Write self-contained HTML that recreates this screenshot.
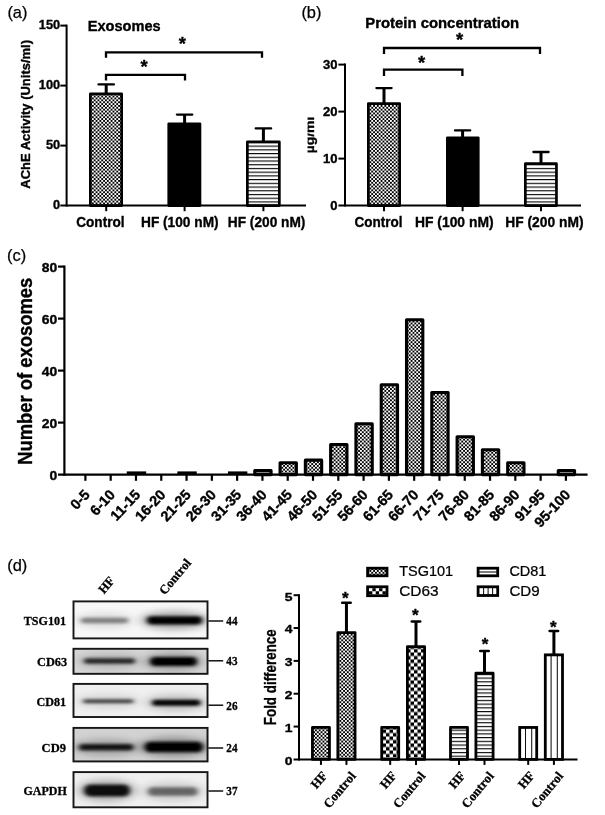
<!DOCTYPE html>
<html lang="en"><head><meta charset="utf-8"><title>Figure</title>
<style>
html,body{margin:0;padding:0;background:#fff;}
svg{display:block;}
text{white-space:pre;}
.sb{font-family:"Liberation Sans",sans-serif;font-weight:700;stroke:#000;stroke-width:0.36px;stroke-linejoin:round;}
.sn{font-family:"Liberation Sans",sans-serif;font-weight:400;}
.rb{font-family:"Liberation Serif",serif;font-weight:700;stroke:#000;stroke-width:0.3px;}
.rn{font-family:"Liberation Serif",serif;font-weight:400;}
</style></head><body>
<svg width="605" height="815" viewBox="0 0 605 815">
<rect width="605" height="815" fill="#fff"/>
<g filter="url(#soft2)">
<rect x="90.35" y="93.95" width="31.30" height="111.65" fill="url(#pFine)" stroke="none" stroke-width="0"/>
<rect x="168.75" y="123.75" width="31.20" height="81.85" fill="#000" stroke="none" stroke-width="0"/>
<rect x="247.35" y="141.95" width="32.00" height="63.65" fill="url(#pH)" stroke="none" stroke-width="0"/>
<rect x="368.35" y="103.55" width="31.30" height="102.05" fill="url(#pFine)" stroke="none" stroke-width="0"/>
<rect x="447.35" y="137.86" width="30.90" height="67.74" fill="#000" stroke="none" stroke-width="0"/>
<rect x="525.35" y="163.71" width="31.10" height="41.89" fill="url(#pH)" stroke="none" stroke-width="0"/>
<rect x="254.78" y="470.55" width="16.30" height="4.05" fill="url(#pFine)" stroke="none" stroke-width="0"/>
<rect x="280.07" y="462.75" width="16.30" height="11.85" fill="url(#pFine)" stroke="none" stroke-width="0"/>
<rect x="305.36" y="460.15" width="16.30" height="14.45" fill="url(#pFine)" stroke="none" stroke-width="0"/>
<rect x="330.65" y="444.55" width="16.30" height="30.05" fill="url(#pFine)" stroke="none" stroke-width="0"/>
<rect x="355.94" y="423.75" width="16.30" height="50.85" fill="url(#pFine)" stroke="none" stroke-width="0"/>
<rect x="381.23" y="384.75" width="16.30" height="89.85" fill="url(#pFine)" stroke="none" stroke-width="0"/>
<rect x="406.52" y="319.75" width="16.30" height="154.85" fill="url(#pFine)" stroke="none" stroke-width="0"/>
<rect x="431.81" y="392.55" width="16.30" height="82.05" fill="url(#pFine)" stroke="none" stroke-width="0"/>
<rect x="457.10" y="436.75" width="16.30" height="37.85" fill="url(#pFine)" stroke="none" stroke-width="0"/>
<rect x="482.39" y="449.75" width="16.30" height="24.85" fill="url(#pFine)" stroke="none" stroke-width="0"/>
<rect x="507.68" y="462.75" width="16.30" height="11.85" fill="url(#pFine)" stroke="none" stroke-width="0"/>
<rect x="558.26" y="470.55" width="16.30" height="4.05" fill="url(#pFine)" stroke="none" stroke-width="0"/>
<rect x="312.45" y="727.46" width="17.00" height="31.94" fill="url(#pFine)" stroke="none" stroke-width="0"/>
<rect x="337.85" y="632.55" width="17.20" height="126.85" fill="url(#pFine)" stroke="none" stroke-width="0"/>
<rect x="381.70" y="727.46" width="17.00" height="31.94" fill="url(#pChk)" stroke="none" stroke-width="0"/>
<rect x="407.40" y="646.67" width="17.20" height="112.73" fill="url(#pChk)" stroke="none" stroke-width="0"/>
<rect x="450.50" y="727.46" width="17.00" height="31.94" fill="url(#pH)" stroke="none" stroke-width="0"/>
<rect x="475.90" y="673.27" width="17.20" height="86.13" fill="url(#pH)" stroke="none" stroke-width="0"/>
<rect x="519.70" y="727.46" width="17.00" height="31.94" fill="#fff" stroke="none" stroke-width="0"/>
<line x1="525.50" y1="726.06" x2="525.50" y2="759.40" stroke="#111" stroke-width="1.05"/>
<line x1="531.70" y1="726.06" x2="531.70" y2="759.40" stroke="#111" stroke-width="1.05"/>
<rect x="545.30" y="654.88" width="17.20" height="104.52" fill="#fff" stroke="none" stroke-width="0"/>
<line x1="551.10" y1="653.48" x2="551.10" y2="759.40" stroke="#111" stroke-width="1.05"/>
<line x1="557.30" y1="653.48" x2="557.30" y2="759.40" stroke="#111" stroke-width="1.05"/>
<rect x="367.60" y="568.20" width="19.40" height="7.60" fill="url(#pFine)" stroke="none" stroke-width="0"/>
<rect x="367.60" y="586.80" width="19.40" height="8.90" fill="#fff" stroke="none" stroke-width="0"/>
<rect x="369.00" y="591.25" width="3.36" height="3.05" fill="#000"/>
<rect x="372.36" y="588.20" width="3.36" height="3.05" fill="#000"/>
<rect x="375.72" y="591.25" width="3.36" height="3.05" fill="#000"/>
<rect x="379.08" y="588.20" width="3.36" height="3.05" fill="#000"/>
<rect x="382.44" y="591.25" width="3.36" height="3.05" fill="#000"/>
<rect x="478.10" y="568.20" width="19.60" height="7.60" fill="#fff" stroke="none" stroke-width="0"/>
<line x1="478" y1="572" x2="498" y2="572" stroke="#111" stroke-width="1.1"/>
<rect x="478.10" y="586.80" width="19.60" height="8.70" fill="#fff" stroke="none" stroke-width="0"/>
<line x1="483.6" y1="586.5" x2="483.6" y2="596" stroke="#111" stroke-width="1.05"/>
<line x1="488.1" y1="586.5" x2="488.1" y2="596" stroke="#111" stroke-width="1.05"/>
<line x1="492.6" y1="586.5" x2="492.6" y2="596" stroke="#111" stroke-width="1.05"/>
</g>
<g filter="url(#soft)">
<defs><pattern id="pFine" width="15.000" height="15.000" patternUnits="userSpaceOnUse"><rect width="15.000" height="15.000" fill="#fff"/><rect x="0.000" y="1.875" width="1.875" height="1.875" fill="#000"/><rect x="0.000" y="5.625" width="1.875" height="1.875" fill="#000"/><rect x="0.000" y="9.375" width="1.875" height="1.875" fill="#000"/><rect x="0.000" y="13.125" width="1.875" height="1.875" fill="#000"/><rect x="1.875" y="0.000" width="1.875" height="1.875" fill="#000"/><rect x="1.875" y="3.750" width="1.875" height="1.875" fill="#000"/><rect x="1.875" y="7.500" width="1.875" height="1.875" fill="#000"/><rect x="1.875" y="11.250" width="1.875" height="1.875" fill="#000"/><rect x="3.750" y="1.875" width="1.875" height="1.875" fill="#000"/><rect x="3.750" y="5.625" width="1.875" height="1.875" fill="#000"/><rect x="3.750" y="9.375" width="1.875" height="1.875" fill="#000"/><rect x="3.750" y="13.125" width="1.875" height="1.875" fill="#000"/><rect x="5.625" y="0.000" width="1.875" height="1.875" fill="#000"/><rect x="5.625" y="3.750" width="1.875" height="1.875" fill="#000"/><rect x="5.625" y="7.500" width="1.875" height="1.875" fill="#000"/><rect x="5.625" y="11.250" width="1.875" height="1.875" fill="#000"/><rect x="7.500" y="1.875" width="1.875" height="1.875" fill="#000"/><rect x="7.500" y="5.625" width="1.875" height="1.875" fill="#000"/><rect x="7.500" y="9.375" width="1.875" height="1.875" fill="#000"/><rect x="7.500" y="13.125" width="1.875" height="1.875" fill="#000"/><rect x="9.375" y="0.000" width="1.875" height="1.875" fill="#000"/><rect x="9.375" y="3.750" width="1.875" height="1.875" fill="#000"/><rect x="9.375" y="7.500" width="1.875" height="1.875" fill="#000"/><rect x="9.375" y="11.250" width="1.875" height="1.875" fill="#000"/><rect x="11.250" y="1.875" width="1.875" height="1.875" fill="#000"/><rect x="11.250" y="5.625" width="1.875" height="1.875" fill="#000"/><rect x="11.250" y="9.375" width="1.875" height="1.875" fill="#000"/><rect x="11.250" y="13.125" width="1.875" height="1.875" fill="#000"/><rect x="13.125" y="0.000" width="1.875" height="1.875" fill="#000"/><rect x="13.125" y="3.750" width="1.875" height="1.875" fill="#000"/><rect x="13.125" y="7.500" width="1.875" height="1.875" fill="#000"/><rect x="13.125" y="11.250" width="1.875" height="1.875" fill="#000"/></pattern><pattern id="pChk" width="14.000" height="14.000" patternTransform="translate(1,1.5)" patternUnits="userSpaceOnUse"><rect width="14.000" height="14.000" fill="#fff"/><rect x="0.000" y="3.500" width="3.500" height="3.500" fill="#000"/><rect x="0.000" y="10.500" width="3.500" height="3.500" fill="#000"/><rect x="3.500" y="0.000" width="3.500" height="3.500" fill="#000"/><rect x="3.500" y="7.000" width="3.500" height="3.500" fill="#000"/><rect x="7.000" y="3.500" width="3.500" height="3.500" fill="#000"/><rect x="7.000" y="10.500" width="3.500" height="3.500" fill="#000"/><rect x="10.500" y="0.000" width="3.500" height="3.500" fill="#000"/><rect x="10.500" y="7.000" width="3.500" height="3.500" fill="#000"/></pattern><pattern id="pChk2" width="12.400" height="12.400" patternTransform="translate(1.2,1.1)" patternUnits="userSpaceOnUse"><rect width="12.400" height="12.400" fill="#fff"/><rect x="0.000" y="3.100" width="3.100" height="3.100" fill="#000"/><rect x="0.000" y="9.300" width="3.100" height="3.100" fill="#000"/><rect x="3.100" y="0.000" width="3.100" height="3.100" fill="#000"/><rect x="3.100" y="6.200" width="3.100" height="3.100" fill="#000"/><rect x="6.200" y="3.100" width="3.100" height="3.100" fill="#000"/><rect x="6.200" y="9.300" width="3.100" height="3.100" fill="#000"/><rect x="9.300" y="0.000" width="3.100" height="3.100" fill="#000"/><rect x="9.300" y="6.200" width="3.100" height="3.100" fill="#000"/></pattern>
<pattern id="pH" width="8" height="3.72" patternUnits="userSpaceOnUse" patternTransform="translate(0,0.5)"><rect width="8" height="3.72" fill="#fff"/><rect y="0" width="8" height="1.15" fill="#0a0a0a"/></pattern>
<pattern id="pV" width="6" height="6" patternUnits="userSpaceOnUse"><rect width="6" height="6" fill="#fff"/><rect x="2.5" width="1" height="6" fill="#555"/></pattern>
<pattern id="pV2" width="4.3" height="4" patternUnits="userSpaceOnUse"><rect width="4.3" height="4" fill="#fff"/><rect x="1.6" width="1" height="4" fill="#555"/></pattern>
<filter id="b1" x="-20%" y="-150%" width="140%" height="400%"><feGaussianBlur stdDeviation="2.6 1.5"/></filter>
<filter id="bh" x="-30%" y="-100%" width="160%" height="300%"><feGaussianBlur stdDeviation="5 3.5"/></filter>
<filter id="b2" x="-20%" y="-100%" width="140%" height="300%"><feGaussianBlur stdDeviation="2.6 2.0"/></filter>
<filter id="soft"><feGaussianBlur stdDeviation="0.4"/></filter>
<filter id="soft2"><feGaussianBlur stdDeviation="0.3"/></filter>
</defs>
<text class="sn" transform="translate(7.40,17.60)" x="0.00" y="0" font-size="16.4" fill="#000" stroke="#000" stroke-width="0.25">(a)</text>
<line x1="66.60" y1="24.60" x2="66.60" y2="206.60" stroke="#000" stroke-width="2.0" stroke-linecap="butt"/>
<line x1="60.30" y1="205.60" x2="306.00" y2="205.60" stroke="#000" stroke-width="2.0" stroke-linecap="butt"/>
<text class="sb" transform="translate(60.20,209.10)" x="-7.12" y="0" font-size="12.8" fill="#000">0</text>
<line x1="60.30" y1="145.60" x2="66.60" y2="145.60" stroke="#000" stroke-width="2.0" stroke-linecap="butt"/>
<text class="sb" transform="translate(60.20,149.10)" x="-14.24" y="0" font-size="12.8" fill="#000">50</text>
<line x1="60.30" y1="85.60" x2="66.60" y2="85.60" stroke="#000" stroke-width="2.0" stroke-linecap="butt"/>
<text class="sb" transform="translate(60.20,89.10)" x="-21.36" y="0" font-size="12.8" fill="#000">100</text>
<line x1="60.30" y1="25.60" x2="66.60" y2="25.60" stroke="#000" stroke-width="2.0" stroke-linecap="butt"/>
<text class="sb" transform="translate(60.20,29.10)" x="-21.36" y="0" font-size="12.8" fill="#000">150</text>
<text class="sb" transform="translate(87.70,30.50) scale(1.0134,1)" x="0.00" y="0" font-size="14.4" fill="#000">Exosomes</text>
<text class="sb" transform="translate(29.50,114.30) rotate(-90) scale(0.9544,1)" x="-77.95" y="0" font-size="13.6" fill="#000">AChE Activity (Units/ml)</text>
<line x1="106.20" y1="93.60" x2="106.20" y2="84.40" stroke="#000" stroke-width="3.0" stroke-linecap="butt"/>
<line x1="98.50" y1="84.40" x2="113.90" y2="84.40" stroke="#000" stroke-width="2.3" stroke-linecap="round"/>
<rect x="90.35" y="93.95" width="31.30" height="111.65" fill="none" stroke="#000" stroke-width="2.7" stroke-linejoin="round"/>
<line x1="106.20" y1="205.60" x2="106.20" y2="211.20" stroke="#000" stroke-width="2.0" stroke-linecap="butt"/>
<line x1="184.60" y1="123.40" x2="184.60" y2="114.60" stroke="#000" stroke-width="3.0" stroke-linecap="butt"/>
<line x1="176.90" y1="114.60" x2="192.30" y2="114.60" stroke="#000" stroke-width="2.3" stroke-linecap="round"/>
<rect x="168.75" y="123.75" width="31.20" height="81.85" fill="none" stroke="#000" stroke-width="2.7" stroke-linejoin="round"/>
<line x1="184.60" y1="205.60" x2="184.60" y2="211.20" stroke="#000" stroke-width="2.0" stroke-linecap="butt"/>
<line x1="263.40" y1="141.60" x2="263.40" y2="128.40" stroke="#000" stroke-width="3.0" stroke-linecap="butt"/>
<line x1="255.70" y1="128.40" x2="271.10" y2="128.40" stroke="#000" stroke-width="2.3" stroke-linecap="round"/>
<rect x="247.35" y="141.95" width="32.00" height="63.65" fill="none" stroke="#000" stroke-width="2.7" stroke-linejoin="round"/>
<line x1="263.40" y1="205.60" x2="263.40" y2="211.20" stroke="#000" stroke-width="2.0" stroke-linecap="butt"/>
<text class="sb" transform="translate(100.40,226.90) scale(0.9077,1)" x="-26.66" y="0" font-size="15.0" fill="#000">Control</text>
<text class="sb" transform="translate(179.80,226.90) scale(0.9129,1)" x="-42.50" y="0" font-size="15.0" fill="#000">HF (100 nM)</text>
<text class="sb" transform="translate(266.60,226.90) scale(0.9129,1)" x="-42.50" y="0" font-size="15.0" fill="#000">HF (200 nM)</text>
<path d="M106.00,57.80 V52.40 H262.00 V57.80" fill="none" stroke="#000" stroke-width="2.3"/>
<path d="M106.00,80.50 V74.90 H185.00 V80.50" fill="none" stroke="#000" stroke-width="2.3"/>
<text class="sb" transform="translate(182.40,49.51)" x="-3.60" y="0" font-size="18.5" fill="#000">*</text>
<text class="sb" transform="translate(144.00,73.11)" x="-3.60" y="0" font-size="18.5" fill="#000">*</text>
<text class="sn" transform="translate(301.40,18.00)" x="0.00" y="0" font-size="16.4" fill="#000" stroke="#000" stroke-width="0.25">(b)</text>
<line x1="345.00" y1="63.60" x2="345.00" y2="206.60" stroke="#000" stroke-width="2.0" stroke-linecap="butt"/>
<line x1="338.40" y1="205.60" x2="581.00" y2="205.60" stroke="#000" stroke-width="2.0" stroke-linecap="butt"/>
<text class="sb" transform="translate(337.60,209.50) scale(1.0200,1)" x="-7.12" y="0" font-size="12.8" fill="#000">0</text>
<line x1="338.40" y1="158.60" x2="345.00" y2="158.60" stroke="#000" stroke-width="2.0" stroke-linecap="butt"/>
<text class="sb" transform="translate(337.60,162.50) scale(1.0200,1)" x="-14.24" y="0" font-size="12.8" fill="#000">10</text>
<line x1="338.40" y1="111.60" x2="345.00" y2="111.60" stroke="#000" stroke-width="2.0" stroke-linecap="butt"/>
<text class="sb" transform="translate(337.60,115.50) scale(1.0200,1)" x="-14.24" y="0" font-size="12.8" fill="#000">20</text>
<line x1="338.40" y1="64.60" x2="345.00" y2="64.60" stroke="#000" stroke-width="2.0" stroke-linecap="butt"/>
<text class="sb" transform="translate(337.60,68.50) scale(1.0200,1)" x="-14.24" y="0" font-size="12.8" fill="#000">30</text>
<text class="sb" transform="translate(365.20,27.50) scale(1.0348,1)" x="0.00" y="0" font-size="14.4" fill="#000">Protein concentration</text>
<clipPath id="cb"><rect x="307.6" y="100" width="20" height="70"/></clipPath>
<g clip-path="url(#cb)">
<text class="sb" transform="translate(313.80,135.00) rotate(-90) scale(1.0226,1)" x="-17.90" y="0" font-size="13.6" fill="#000">µg/ml</text>
</g>
<line x1="384.00" y1="103.20" x2="384.00" y2="88.10" stroke="#000" stroke-width="3.0" stroke-linecap="butt"/>
<line x1="376.40" y1="88.10" x2="391.60" y2="88.10" stroke="#000" stroke-width="2.3" stroke-linecap="round"/>
<rect x="368.35" y="103.55" width="31.30" height="102.05" fill="none" stroke="#000" stroke-width="2.7" stroke-linejoin="round"/>
<line x1="384.00" y1="205.60" x2="384.00" y2="211.20" stroke="#000" stroke-width="2.0" stroke-linecap="butt"/>
<line x1="462.60" y1="137.51" x2="462.60" y2="130.40" stroke="#000" stroke-width="3.0" stroke-linecap="butt"/>
<line x1="455.00" y1="130.40" x2="470.20" y2="130.40" stroke="#000" stroke-width="2.3" stroke-linecap="round"/>
<rect x="447.35" y="137.86" width="30.90" height="67.74" fill="none" stroke="#000" stroke-width="2.7" stroke-linejoin="round"/>
<line x1="462.60" y1="205.60" x2="462.60" y2="211.20" stroke="#000" stroke-width="2.0" stroke-linecap="butt"/>
<line x1="541.00" y1="163.36" x2="541.00" y2="152.02" stroke="#000" stroke-width="3.0" stroke-linecap="butt"/>
<line x1="533.40" y1="152.02" x2="548.60" y2="152.02" stroke="#000" stroke-width="2.3" stroke-linecap="round"/>
<rect x="525.35" y="163.71" width="31.10" height="41.89" fill="none" stroke="#000" stroke-width="2.7" stroke-linejoin="round"/>
<line x1="541.00" y1="205.60" x2="541.00" y2="211.20" stroke="#000" stroke-width="2.0" stroke-linecap="butt"/>
<text class="sb" transform="translate(378.50,227.00) scale(0.9002,1)" x="-26.66" y="0" font-size="15.0" fill="#000">Control</text>
<text class="sb" transform="translate(454.30,227.00) scale(0.9246,1)" x="-42.50" y="0" font-size="15.0" fill="#000">HF (100 nM)</text>
<text class="sb" transform="translate(544.40,227.00) scale(0.9199,1)" x="-42.50" y="0" font-size="15.0" fill="#000">HF (200 nM)</text>
<path d="M384.00,54.00 V48.00 H540.00 V54.00" fill="none" stroke="#000" stroke-width="2.3"/>
<path d="M384.00,76.00 V69.60 H462.40 V76.00" fill="none" stroke="#000" stroke-width="2.3"/>
<text class="sb" transform="translate(459.60,46.31)" x="-3.60" y="0" font-size="18.5" fill="#000">*</text>
<text class="sb" transform="translate(421.60,68.91)" x="-3.60" y="0" font-size="18.5" fill="#000">*</text>
<text class="sn" transform="translate(7.00,261.10)" x="0.00" y="0" font-size="16.4" fill="#000" stroke="#000" stroke-width="0.25">(c)</text>
<line x1="64.40" y1="265.50" x2="64.40" y2="475.70" stroke="#000" stroke-width="2.2" stroke-linecap="butt"/>
<line x1="58.00" y1="474.60" x2="587.60" y2="474.60" stroke="#000" stroke-width="2.2" stroke-linecap="butt"/>
<text class="sb" transform="translate(57.20,480.20) scale(1.0400,1)" x="-7.45" y="0" font-size="13.4" fill="#000">0</text>
<line x1="58.00" y1="422.60" x2="64.40" y2="422.60" stroke="#000" stroke-width="2.2" stroke-linecap="butt"/>
<text class="sb" transform="translate(57.20,428.20) scale(1.0400,1)" x="-14.90" y="0" font-size="13.4" fill="#000">20</text>
<line x1="58.00" y1="370.60" x2="64.40" y2="370.60" stroke="#000" stroke-width="2.2" stroke-linecap="butt"/>
<text class="sb" transform="translate(57.20,376.20) scale(1.0400,1)" x="-14.90" y="0" font-size="13.4" fill="#000">40</text>
<line x1="58.00" y1="318.60" x2="64.40" y2="318.60" stroke="#000" stroke-width="2.2" stroke-linecap="butt"/>
<text class="sb" transform="translate(57.20,324.20) scale(1.0400,1)" x="-14.90" y="0" font-size="13.4" fill="#000">60</text>
<line x1="58.00" y1="266.60" x2="64.40" y2="266.60" stroke="#000" stroke-width="2.2" stroke-linecap="butt"/>
<text class="sb" transform="translate(57.20,272.20) scale(1.0400,1)" x="-14.90" y="0" font-size="13.4" fill="#000">80</text>
<text class="sb" transform="translate(31.60,371.20) rotate(-90) scale(0.8766,1)" x="-106.78" y="0" font-size="21" fill="#000">Number of exosomes</text>
<line x1="85.40" y1="474.60" x2="85.40" y2="480.80" stroke="#000" stroke-width="2.2" stroke-linecap="butt"/>
<text class="sb" transform="translate(90.60,495.40) rotate(-47)" x="-20.81" y="0" font-size="14.4" fill="#000">0-5</text>
<line x1="110.69" y1="474.60" x2="110.69" y2="480.80" stroke="#000" stroke-width="2.2" stroke-linecap="butt"/>
<text class="sb" transform="translate(115.89,495.40) rotate(-47)" x="-28.82" y="0" font-size="14.4" fill="#000">6-10</text>
<line x1="135.98" y1="474.60" x2="135.98" y2="480.80" stroke="#000" stroke-width="2.2" stroke-linecap="butt"/>
<line x1="126.78" y1="473.00" x2="146.18" y2="473.00" stroke="#000" stroke-width="3.2" stroke-linecap="butt"/>
<text class="sb" transform="translate(141.18,495.40) rotate(-47)" x="-36.04" y="0" font-size="14.4" fill="#000">11-15</text>
<line x1="161.27" y1="474.60" x2="161.27" y2="480.80" stroke="#000" stroke-width="2.2" stroke-linecap="butt"/>
<text class="sb" transform="translate(166.47,495.40) rotate(-47)" x="-36.83" y="0" font-size="14.4" fill="#000">16-20</text>
<line x1="186.56" y1="474.60" x2="186.56" y2="480.80" stroke="#000" stroke-width="2.2" stroke-linecap="butt"/>
<line x1="177.36" y1="473.00" x2="196.76" y2="473.00" stroke="#000" stroke-width="3.2" stroke-linecap="butt"/>
<text class="sb" transform="translate(191.76,495.40) rotate(-47)" x="-36.83" y="0" font-size="14.4" fill="#000">21-25</text>
<line x1="211.85" y1="474.60" x2="211.85" y2="480.80" stroke="#000" stroke-width="2.2" stroke-linecap="butt"/>
<text class="sb" transform="translate(217.05,495.40) rotate(-47)" x="-36.83" y="0" font-size="14.4" fill="#000">26-30</text>
<line x1="237.14" y1="474.60" x2="237.14" y2="480.80" stroke="#000" stroke-width="2.2" stroke-linecap="butt"/>
<line x1="227.94" y1="473.00" x2="247.34" y2="473.00" stroke="#000" stroke-width="3.2" stroke-linecap="butt"/>
<text class="sb" transform="translate(242.34,495.40) rotate(-47)" x="-36.83" y="0" font-size="14.4" fill="#000">31-35</text>
<line x1="262.43" y1="474.60" x2="262.43" y2="480.80" stroke="#000" stroke-width="2.2" stroke-linecap="butt"/>
<rect x="254.78" y="470.55" width="16.30" height="4.05" fill="none" stroke="#000" stroke-width="3.1" stroke-linejoin="round"/>
<text class="sb" transform="translate(267.63,495.40) rotate(-47)" x="-36.83" y="0" font-size="14.4" fill="#000">36-40</text>
<line x1="287.72" y1="474.60" x2="287.72" y2="480.80" stroke="#000" stroke-width="2.2" stroke-linecap="butt"/>
<rect x="280.07" y="462.75" width="16.30" height="11.85" fill="none" stroke="#000" stroke-width="3.1" stroke-linejoin="round"/>
<text class="sb" transform="translate(292.92,495.40) rotate(-47)" x="-36.83" y="0" font-size="14.4" fill="#000">41-45</text>
<line x1="313.01" y1="474.60" x2="313.01" y2="480.80" stroke="#000" stroke-width="2.2" stroke-linecap="butt"/>
<rect x="305.36" y="460.15" width="16.30" height="14.45" fill="none" stroke="#000" stroke-width="3.1" stroke-linejoin="round"/>
<text class="sb" transform="translate(318.21,495.40) rotate(-47)" x="-36.83" y="0" font-size="14.4" fill="#000">46-50</text>
<line x1="338.30" y1="474.60" x2="338.30" y2="480.80" stroke="#000" stroke-width="2.2" stroke-linecap="butt"/>
<rect x="330.65" y="444.55" width="16.30" height="30.05" fill="none" stroke="#000" stroke-width="3.1" stroke-linejoin="round"/>
<text class="sb" transform="translate(343.50,495.40) rotate(-47)" x="-36.83" y="0" font-size="14.4" fill="#000">51-55</text>
<line x1="363.59" y1="474.60" x2="363.59" y2="480.80" stroke="#000" stroke-width="2.2" stroke-linecap="butt"/>
<rect x="355.94" y="423.75" width="16.30" height="50.85" fill="none" stroke="#000" stroke-width="3.1" stroke-linejoin="round"/>
<text class="sb" transform="translate(368.79,495.40) rotate(-47)" x="-36.83" y="0" font-size="14.4" fill="#000">56-60</text>
<line x1="388.88" y1="474.60" x2="388.88" y2="480.80" stroke="#000" stroke-width="2.2" stroke-linecap="butt"/>
<rect x="381.23" y="384.75" width="16.30" height="89.85" fill="none" stroke="#000" stroke-width="3.1" stroke-linejoin="round"/>
<text class="sb" transform="translate(394.08,495.40) rotate(-47)" x="-36.83" y="0" font-size="14.4" fill="#000">61-65</text>
<line x1="414.17" y1="474.60" x2="414.17" y2="480.80" stroke="#000" stroke-width="2.2" stroke-linecap="butt"/>
<rect x="406.52" y="319.75" width="16.30" height="154.85" fill="none" stroke="#000" stroke-width="3.1" stroke-linejoin="round"/>
<text class="sb" transform="translate(419.37,495.40) rotate(-47)" x="-36.83" y="0" font-size="14.4" fill="#000">66-70</text>
<line x1="439.46" y1="474.60" x2="439.46" y2="480.80" stroke="#000" stroke-width="2.2" stroke-linecap="butt"/>
<rect x="431.81" y="392.55" width="16.30" height="82.05" fill="none" stroke="#000" stroke-width="3.1" stroke-linejoin="round"/>
<text class="sb" transform="translate(444.66,495.40) rotate(-47)" x="-36.83" y="0" font-size="14.4" fill="#000">71-75</text>
<line x1="464.75" y1="474.60" x2="464.75" y2="480.80" stroke="#000" stroke-width="2.2" stroke-linecap="butt"/>
<rect x="457.10" y="436.75" width="16.30" height="37.85" fill="none" stroke="#000" stroke-width="3.1" stroke-linejoin="round"/>
<text class="sb" transform="translate(469.95,495.40) rotate(-47)" x="-36.83" y="0" font-size="14.4" fill="#000">76-80</text>
<line x1="490.04" y1="474.60" x2="490.04" y2="480.80" stroke="#000" stroke-width="2.2" stroke-linecap="butt"/>
<rect x="482.39" y="449.75" width="16.30" height="24.85" fill="none" stroke="#000" stroke-width="3.1" stroke-linejoin="round"/>
<text class="sb" transform="translate(495.24,495.40) rotate(-47)" x="-36.83" y="0" font-size="14.4" fill="#000">81-85</text>
<line x1="515.33" y1="474.60" x2="515.33" y2="480.80" stroke="#000" stroke-width="2.2" stroke-linecap="butt"/>
<rect x="507.68" y="462.75" width="16.30" height="11.85" fill="none" stroke="#000" stroke-width="3.1" stroke-linejoin="round"/>
<text class="sb" transform="translate(520.53,495.40) rotate(-47)" x="-36.83" y="0" font-size="14.4" fill="#000">86-90</text>
<line x1="540.62" y1="474.60" x2="540.62" y2="480.80" stroke="#000" stroke-width="2.2" stroke-linecap="butt"/>
<text class="sb" transform="translate(545.82,495.40) rotate(-47)" x="-36.83" y="0" font-size="14.4" fill="#000">91-95</text>
<line x1="565.91" y1="474.60" x2="565.91" y2="480.80" stroke="#000" stroke-width="2.2" stroke-linecap="butt"/>
<rect x="558.26" y="470.55" width="16.30" height="4.05" fill="none" stroke="#000" stroke-width="3.1" stroke-linejoin="round"/>
<text class="sb" transform="translate(571.11,495.40) rotate(-47)" x="-44.84" y="0" font-size="14.4" fill="#000">95-100</text>
<text class="sn" transform="translate(7.20,570.70)" x="0.00" y="0" font-size="16.4" fill="#000" stroke="#000" stroke-width="0.25">(d)</text>
<clipPath id="c0"><rect x="72.6" y="600.5" width="135.8" height="38.799999999999955"/></clipPath>
<rect x="72.60" y="600.50" width="135.80" height="38.80" fill="#f7f7f7" stroke="none" stroke-width="0"/>
<g clip-path="url(#c0)">
<ellipse cx="104.50" cy="620.60" rx="30.50" ry="7.75" fill="#000" opacity="0.1" filter="url(#bh)"/>
<rect x="81.00" y="617.85" width="47.00" height="5.5" rx="2.75" fill="#000" opacity="0.42" filter="url(#b1)"/>
<ellipse cx="174.50" cy="620.30" rx="34.50" ry="9.10" fill="#000" opacity="0.32" filter="url(#bh)"/>
<rect x="147.00" y="616.20" width="55.00" height="8.2" rx="4.10" fill="#000" opacity="1" filter="url(#b1)"/>
</g>
<rect x="73.50" y="601.40" width="134.00" height="37.00" fill="none" stroke="#151515" stroke-width="1.9"/>
<text class="rb" transform="translate(66.00,625.10) scale(0.9491,1)" x="-44.46" y="0" font-size="12.7" fill="#000">TSG101</text>
<line x1="208.40" y1="621.00" x2="223.20" y2="621.00" stroke="#000" stroke-width="1.4" stroke-linecap="butt"/>
<text class="rb" transform="translate(226.30,625.30) scale(0.8819,1)" x="0.00" y="0" font-size="12.7" fill="#000">44</text>
<clipPath id="c1"><rect x="72.6" y="647.9" width="135.8" height="26.800000000000068"/></clipPath>
<rect x="72.60" y="647.90" width="135.80" height="26.80" fill="#d6d6d6" stroke="none" stroke-width="0"/>
<g clip-path="url(#c1)">
<ellipse cx="109.50" cy="661.00" rx="32.50" ry="7.75" fill="#000" opacity="0.15" filter="url(#bh)"/>
<rect x="84.00" y="658.25" width="51.00" height="5.5" rx="2.75" fill="#000" opacity="0.78" filter="url(#b1)"/>
<ellipse cx="173.50" cy="661.50" rx="30.50" ry="9.50" fill="#000" opacity="0.25" filter="url(#bh)"/>
<rect x="150.00" y="657.00" width="47.00" height="9" rx="4.50" fill="#000" opacity="1" filter="url(#b1)"/>
</g>
<rect x="73.50" y="648.80" width="134.00" height="25.00" fill="none" stroke="#151515" stroke-width="1.9"/>
<text class="rb" transform="translate(67.20,665.50) scale(0.9728,1)" x="-31.04" y="0" font-size="12.7" fill="#000">CD63</text>
<line x1="208.40" y1="660.80" x2="223.20" y2="660.80" stroke="#000" stroke-width="1.4" stroke-linecap="butt"/>
<text class="rb" transform="translate(226.30,665.10) scale(0.8819,1)" x="0.00" y="0" font-size="12.7" fill="#000">43</text>
<clipPath id="c2"><rect x="72.6" y="683" width="135.8" height="34.89999999999998"/></clipPath>
<rect x="72.60" y="683.00" width="135.80" height="34.90" fill="#efefef" stroke="none" stroke-width="0"/>
<g clip-path="url(#c2)">
<ellipse cx="108.25" cy="701.20" rx="32.25" ry="7.00" fill="#000" opacity="0.1" filter="url(#bh)"/>
<rect x="83.00" y="699.20" width="50.50" height="4" rx="2.00" fill="#000" opacity="0.7" filter="url(#b1)"/>
<ellipse cx="176.25" cy="702.70" rx="31.25" ry="8.00" fill="#000" opacity="0.2" filter="url(#bh)"/>
<rect x="152.00" y="699.70" width="48.50" height="6" rx="3.00" fill="#000" opacity="1" filter="url(#b1)"/>
</g>
<rect x="73.50" y="683.90" width="134.00" height="33.10" fill="none" stroke="#151515" stroke-width="1.9"/>
<text class="rb" transform="translate(66.00,705.50) scale(0.9535,1)" x="-31.04" y="0" font-size="12.7" fill="#000">CD81</text>
<line x1="208.40" y1="705.20" x2="223.20" y2="705.20" stroke="#000" stroke-width="1.4" stroke-linecap="butt"/>
<text class="rb" transform="translate(226.30,709.50) scale(0.8819,1)" x="0.00" y="0" font-size="12.7" fill="#000">26</text>
<clipPath id="c3"><rect x="72.6" y="727" width="135.8" height="35.299999999999955"/></clipPath>
<rect x="72.60" y="727.00" width="135.80" height="35.30" fill="#d2d2d2" stroke="none" stroke-width="0"/>
<g clip-path="url(#c3)">
<ellipse cx="106.25" cy="747.30" rx="34.25" ry="8.25" fill="#000" opacity="0.22" filter="url(#bh)"/>
<rect x="79.00" y="744.05" width="54.50" height="6.5" rx="3.25" fill="#000" opacity="0.88" filter="url(#b1)"/>
<ellipse cx="173.75" cy="747.00" rx="36.25" ry="10.25" fill="#000" opacity="0.3" filter="url(#bh)"/>
<rect x="144.50" y="741.75" width="58.50" height="10.5" rx="5.25" fill="#000" opacity="1" filter="url(#b1)"/>
</g>
<rect x="73.50" y="727.90" width="134.00" height="33.50" fill="none" stroke="#151515" stroke-width="1.9"/>
<text class="rb" transform="translate(66.00,751.50) scale(0.9881,1)" x="-24.69" y="0" font-size="12.7" fill="#000">CD9</text>
<line x1="208.40" y1="748.00" x2="223.20" y2="748.00" stroke="#000" stroke-width="1.4" stroke-linecap="butt"/>
<text class="rb" transform="translate(226.30,752.30) scale(0.8819,1)" x="0.00" y="0" font-size="12.7" fill="#000">24</text>
<clipPath id="c4"><rect x="72.6" y="771.2" width="135.8" height="37.0"/></clipPath>
<rect x="72.60" y="771.20" width="135.80" height="37.00" fill="#efefef" stroke="none" stroke-width="0"/>
<g clip-path="url(#c4)">
<ellipse cx="107.00" cy="790.50" rx="30.00" ry="11.00" fill="#000" opacity="0.25" filter="url(#bh)"/>
<rect x="84.00" y="784.50" width="46.00" height="12" rx="6.00" fill="#000" opacity="0.92" filter="url(#b1)"/>
<ellipse cx="172.75" cy="791.50" rx="31.75" ry="9.25" fill="#000" opacity="0.15" filter="url(#bh)"/>
<rect x="148.00" y="787.25" width="49.50" height="8.5" rx="4.25" fill="#000" opacity="0.5" filter="url(#b1)"/>
</g>
<rect x="73.50" y="772.10" width="134.00" height="35.20" fill="none" stroke="#151515" stroke-width="1.9"/>
<text class="rb" transform="translate(66.80,794.70) scale(0.9464,1)" x="-45.86" y="0" font-size="12.7" fill="#000">GAPDH</text>
<line x1="208.40" y1="791.00" x2="223.20" y2="791.00" stroke="#000" stroke-width="1.4" stroke-linecap="butt"/>
<text class="rb" transform="translate(226.30,795.30) scale(0.8819,1)" x="0.00" y="0" font-size="12.7" fill="#000">37</text>
<text class="rb" transform="translate(115.30,581.00) rotate(-50)" x="-17.64" y="0" font-size="12.7" fill="#000">HF</text>
<text class="rb" transform="translate(191.80,563.20) rotate(-50)" x="-42.10" y="0" font-size="12.7" fill="#000">Control</text>
<line x1="299.00" y1="594.20" x2="299.00" y2="760.40" stroke="#000" stroke-width="2.0" stroke-linecap="butt"/>
<line x1="293.60" y1="759.40" x2="577.50" y2="759.40" stroke="#000" stroke-width="2.0" stroke-linecap="butt"/>
<text class="sb" transform="translate(292.60,764.80) scale(1.1800,1)" x="-6.56" y="0" font-size="11.8" fill="#000">0</text>
<line x1="293.60" y1="726.56" x2="299.00" y2="726.56" stroke="#000" stroke-width="2.0" stroke-linecap="butt"/>
<text class="sb" transform="translate(292.60,731.96) scale(1.1800,1)" x="-6.56" y="0" font-size="11.8" fill="#000">1</text>
<line x1="293.60" y1="693.72" x2="299.00" y2="693.72" stroke="#000" stroke-width="2.0" stroke-linecap="butt"/>
<text class="sb" transform="translate(292.60,699.12) scale(1.1800,1)" x="-6.56" y="0" font-size="11.8" fill="#000">2</text>
<line x1="293.60" y1="660.88" x2="299.00" y2="660.88" stroke="#000" stroke-width="2.0" stroke-linecap="butt"/>
<text class="sb" transform="translate(292.60,666.28) scale(1.1800,1)" x="-6.56" y="0" font-size="11.8" fill="#000">3</text>
<line x1="293.60" y1="628.04" x2="299.00" y2="628.04" stroke="#000" stroke-width="2.0" stroke-linecap="butt"/>
<text class="sb" transform="translate(292.60,633.44) scale(1.1800,1)" x="-6.56" y="0" font-size="11.8" fill="#000">4</text>
<line x1="293.60" y1="595.20" x2="299.00" y2="595.20" stroke="#000" stroke-width="2.0" stroke-linecap="butt"/>
<text class="sb" transform="translate(292.60,600.60) scale(1.1800,1)" x="-6.56" y="0" font-size="11.8" fill="#000">5</text>
<text class="sb" transform="translate(276.30,677.20) rotate(-90) scale(0.7698,1)" x="-62.36" y="0" font-size="17.4" fill="#000">Fold difference</text>
<line x1="346.45" y1="632.15" x2="346.45" y2="602.75" stroke="#000" stroke-width="3.0" stroke-linecap="butt"/>
<line x1="342.25" y1="602.75" x2="350.65" y2="602.75" stroke="#000" stroke-width="2.6" stroke-linecap="round"/>
<rect x="312.45" y="727.46" width="17.00" height="31.94" fill="none" stroke="#000" stroke-width="2.8" stroke-linejoin="round"/>
<rect x="337.85" y="632.55" width="17.20" height="126.85" fill="none" stroke="#000" stroke-width="2.8" stroke-linejoin="round"/>
<line x1="320.95" y1="759.40" x2="320.95" y2="764.90" stroke="#000" stroke-width="2.0" stroke-linecap="butt"/>
<line x1="346.45" y1="759.40" x2="346.45" y2="764.90" stroke="#000" stroke-width="2.0" stroke-linecap="butt"/>
<text class="sb" transform="translate(345.40,603.82)" x="-3.31" y="0" font-size="17" fill="#000">*</text>
<text class="rb" transform="translate(327.95,775.90) rotate(-50)" x="-17.77" y="0" font-size="12.8" fill="#000">HF</text>
<text class="rb" transform="translate(356.45,776.40) rotate(-50)" x="-42.43" y="0" font-size="12.8" fill="#000">Control</text>
<line x1="416.00" y1="646.27" x2="416.00" y2="621.47" stroke="#000" stroke-width="3.0" stroke-linecap="butt"/>
<line x1="411.80" y1="621.47" x2="420.20" y2="621.47" stroke="#000" stroke-width="2.6" stroke-linecap="round"/>
<rect x="381.70" y="727.46" width="17.00" height="31.94" fill="none" stroke="#000" stroke-width="2.8" stroke-linejoin="round"/>
<rect x="407.40" y="646.67" width="17.20" height="112.73" fill="none" stroke="#000" stroke-width="2.8" stroke-linejoin="round"/>
<line x1="390.20" y1="759.40" x2="390.20" y2="764.90" stroke="#000" stroke-width="2.0" stroke-linecap="butt"/>
<line x1="416.00" y1="759.40" x2="416.00" y2="764.90" stroke="#000" stroke-width="2.0" stroke-linecap="butt"/>
<text class="sb" transform="translate(415.30,621.42)" x="-3.31" y="0" font-size="17" fill="#000">*</text>
<text class="rb" transform="translate(397.20,775.90) rotate(-50)" x="-17.77" y="0" font-size="12.8" fill="#000">HF</text>
<text class="rb" transform="translate(426.00,776.40) rotate(-50)" x="-42.43" y="0" font-size="12.8" fill="#000">Control</text>
<line x1="484.50" y1="672.87" x2="484.50" y2="651.03" stroke="#000" stroke-width="3.0" stroke-linecap="butt"/>
<line x1="480.30" y1="651.03" x2="488.70" y2="651.03" stroke="#000" stroke-width="2.6" stroke-linecap="round"/>
<rect x="450.50" y="727.46" width="17.00" height="31.94" fill="none" stroke="#000" stroke-width="2.8" stroke-linejoin="round"/>
<rect x="475.90" y="673.27" width="17.20" height="86.13" fill="none" stroke="#000" stroke-width="2.8" stroke-linejoin="round"/>
<line x1="459.00" y1="759.40" x2="459.00" y2="764.90" stroke="#000" stroke-width="2.0" stroke-linecap="butt"/>
<line x1="484.50" y1="759.40" x2="484.50" y2="764.90" stroke="#000" stroke-width="2.0" stroke-linecap="butt"/>
<text class="sb" transform="translate(485.00,650.32)" x="-3.31" y="0" font-size="17" fill="#000">*</text>
<text class="rb" transform="translate(466.00,775.90) rotate(-50)" x="-17.77" y="0" font-size="12.8" fill="#000">HF</text>
<text class="rb" transform="translate(494.50,776.40) rotate(-50)" x="-42.43" y="0" font-size="12.8" fill="#000">Control</text>
<line x1="553.90" y1="654.48" x2="553.90" y2="631.00" stroke="#000" stroke-width="3.0" stroke-linecap="butt"/>
<line x1="549.70" y1="631.00" x2="558.10" y2="631.00" stroke="#000" stroke-width="2.6" stroke-linecap="round"/>
<rect x="519.70" y="727.46" width="17.00" height="31.94" fill="none" stroke="#000" stroke-width="2.8"/>
<rect x="545.30" y="654.88" width="17.20" height="104.52" fill="none" stroke="#000" stroke-width="2.8"/>
<line x1="528.20" y1="759.40" x2="528.20" y2="764.90" stroke="#000" stroke-width="2.0" stroke-linecap="butt"/>
<line x1="553.90" y1="759.40" x2="553.90" y2="764.90" stroke="#000" stroke-width="2.0" stroke-linecap="butt"/>
<text class="sb" transform="translate(553.30,633.12)" x="-3.31" y="0" font-size="17" fill="#000">*</text>
<text class="rb" transform="translate(535.20,775.90) rotate(-50)" x="-17.77" y="0" font-size="12.8" fill="#000">HF</text>
<text class="rb" transform="translate(563.90,776.40) rotate(-50)" x="-42.43" y="0" font-size="12.8" fill="#000">Control</text>
<rect x="367.60" y="568.20" width="19.40" height="7.60" fill="none" stroke="#000" stroke-width="2.8"/>
<text class="sn" transform="translate(399.20,576.40) scale(1.0211,1)" x="0.00" y="0" font-size="14.2" fill="#000" stroke="#000" stroke-width="0.25">TSG101</text>
<rect x="367.60" y="586.80" width="19.40" height="8.90" fill="none" stroke="#000" stroke-width="2.8"/>
<text class="sn" transform="translate(399.20,596.20) scale(1.0853,1)" x="0.00" y="0" font-size="14.2" fill="#000" stroke="#000" stroke-width="0.25">CD63</text>
<rect x="478.10" y="568.20" width="19.60" height="7.60" fill="none" stroke="#000" stroke-width="2.8"/>
<text class="sn" transform="translate(509.40,576.40) scale(1.0192,1)" x="0.00" y="0" font-size="14.2" fill="#000" stroke="#000" stroke-width="0.25">CD81</text>
<rect x="478.10" y="586.80" width="19.60" height="8.70" fill="none" stroke="#000" stroke-width="2.8"/>
<text class="sn" transform="translate(509.40,596.20) scale(1.0631,1)" x="0.00" y="0" font-size="14.2" fill="#000" stroke="#000" stroke-width="0.25">CD9</text>
</g>
</svg>
</body></html>
